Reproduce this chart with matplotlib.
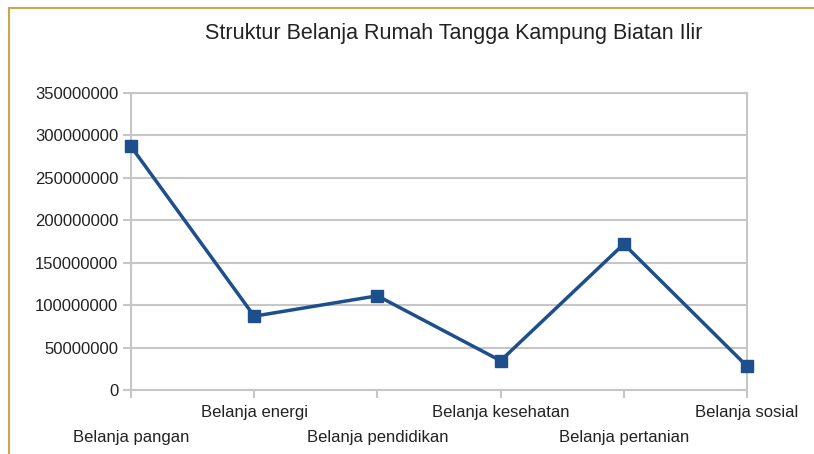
import matplotlib.pyplot as plt
from matplotlib.lines import Line2D

plt.rcParams['font.family'] = ['Liberation Sans', 'DejaVu Sans']

# Pengeluaran rumah tangga per kategori (Rp)
kategori = ['Belanja pangan', 'Belanja energi', 'Belanja pendidikan',
            'Belanja kesehatan', 'Belanja pertanian', 'Belanja sosial']
belanja = [287000000, 87000000, 111000000, 34500000, 172000000, 28000000]
y_ticks = [0, 50000000, 100000000, 150000000, 200000000, 250000000,
           300000000, 350000000]
judul = 'Struktur Belanja Rumah Tangga Kampung Biatan Ilir'

W, H = 814, 454
fig = plt.figure(figsize=(W / 100, H / 100), dpi=100)
ax = fig.add_axes([131 / W, 1 - 390 / H, (747 - 131) / W, (390 - 93) / H])

grid_col = '#c6c6c6'
text_col = '#222222'
line_col = '#1c4f8c'

x = list(range(len(kategori)))
ax.plot(x, belanja, color=line_col, lw=2.5, marker='s', ms=9,
        markeredgecolor=line_col, zorder=3, clip_on=False)

ax.set_xlim(0, len(kategori) - 1)
ax.set_ylim(y_ticks[0], y_ticks[-1])
ax.set_yticks(y_ticks)
ax.set_yticklabels([str(v) for v in y_ticks])
ax.set_xticks(x)
ax.set_xticklabels(kategori)

ax.yaxis.grid(True, color=grid_col, lw=1.5)
ax.set_axisbelow(True)
for s in ax.spines.values():
    s.set_color(grid_col)
    s.set_linewidth(1.5)

ax.tick_params(axis='both', colors=grid_col, labelcolor=text_col,
               labelsize=12, length=6, width=1.5)
ax.tick_params(axis='y', pad=3)

# staggered category labels
for i, tick in enumerate(ax.xaxis.get_major_ticks()):
    tick.set_pad(5 if i % 2 else 23)

fig.text(454 / W, 1 - 34 / H, judul, ha='center', va='center',
         fontsize=15.5, color=text_col)

# chart-area frame (top and left edges)
border = '#c9a84c'
fig.add_artist(Line2D([9 / W, 1], [1 - 8 / H, 1 - 8 / H], color=border,
                      lw=1.5, transform=fig.transFigure))
fig.add_artist(Line2D([9 / W, 9 / W], [0, 1 - 8 / H], color=border,
                      lw=1.5, transform=fig.transFigure))

fig.savefig('out.png', dpi=100, facecolor='white')
